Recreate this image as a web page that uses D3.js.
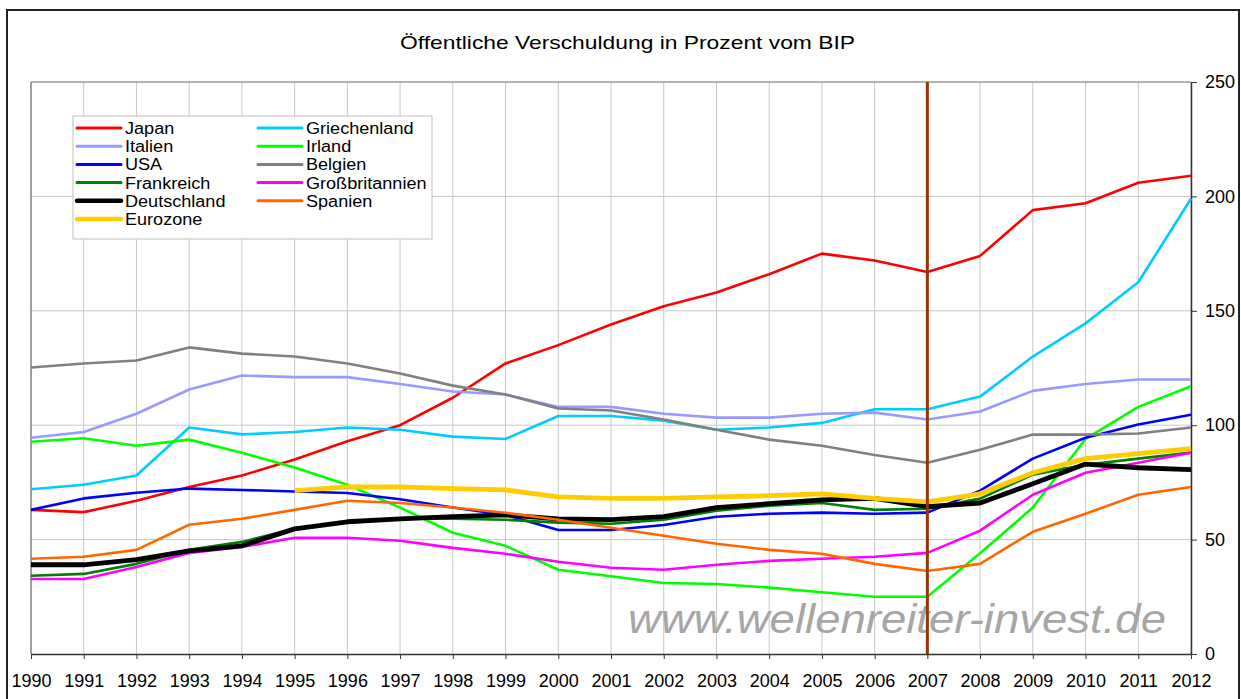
<!DOCTYPE html>
<html>
<head>
<meta charset="utf-8">
<script src="https://cdn.jsdelivr.net/npm/d3@7"></script>
<style>
  body { margin: 0; background: #fff; }
  text { font-family: "Liberation Sans", Arial, sans-serif; }
</style>
</head>
<body>
<div id="chart"></div>
<script>
const years = d3.range(1990, 2013);

// values in percent of GDP
const japan = [63, 62, 67, 73, 78, 85, 93, 100, 112, 127, 135, 144, 152, 158, 166, 175, 172, 167, 174, 194, 197, 206, 209];
const griechenland = [72, 74, 78, 99, 96, 97, 99, 98, 95, 94, 104, 104, 102, 98, 99, 101, 107, 107, 112.5, 130, 144.5, 162.5, 199];
const italien = [94.5, 97, 105, 115.6, 121.7, 121, 121, 118, 114.7, 113.4, 108, 108, 105, 103.3, 103.3, 105, 105.5, 102.5, 106, 115, 118, 120, 120];
const irland = [92.8, 94.3, 91, 93.7, 88, 81.5, 74, 64, 53, 47.3, 36.8, 34, 31, 30.6, 29, 27, 25, 25, 44, 64, 94, 108, 117];
const usa = [63, 68, 70.5, 72.3, 71.7, 71, 70.4, 67.6, 64, 60.8, 54.2, 54.2, 56.4, 60, 61.3, 61.8, 61.3, 61.8, 71.4, 85.4, 94.5, 100.3, 104.6];
const belgien = [125.2, 127, 128.3, 134, 131.3, 130, 127, 122.6, 117.3, 113.4, 107.3, 106.4, 102.5, 98, 93.7, 91, 87, 83.6, 89.3, 95.9, 95.9, 96.4, 99];
const frankreich = [34.2, 35, 39.4, 45.5, 49, 54.7, 57.4, 59.1, 59.1, 58.7, 57.4, 56.9, 58.7, 62.6, 64.8, 66, 63, 63.5, 67.9, 78.4, 82.7, 85.4, 88];
const grossbritannien = [32.8, 32.8, 38, 44.2, 46.8, 50.8, 50.8, 49.5, 46.4, 43.8, 40.3, 37.7, 36.8, 39, 40.7, 41.6, 42.5, 44.2, 53.9, 69.6, 79.2, 83.6, 88];
const deutschland = [39, 39, 41.2, 45.1, 47.3, 54.7, 57.8, 59.1, 60, 60.8, 59.1, 58.7, 60, 64, 65.7, 67.4, 68, 64.4, 66, 74.4, 83, 81.4, 80.6];
const spanien = [41.6, 42.5, 45.5, 56.5, 59.1, 63, 67, 66, 64, 61.7, 58.7, 55.2, 51.7, 48.2, 45.5, 43.8, 39.4, 36.3, 39.4, 53.4, 61.3, 69.6, 73];
const eurozone = [null, null, null, null, null, 71.4, 73, 73, 72.3, 71.7, 68.7, 68, 68, 68.7, 69.2, 70, 68, 66.5, 70, 79.2, 85.4, 87.6, 89.8];

const yTicks = [0, 50, 100, 150, 200, 250];
const markerYear = 2007;

// drawing order as in the legend (row by row)
const series = [
    { name: "Japan", values: japan, color: "#ff0000", width: 2.6 },
    { name: "Griechenland", values: griechenland, color: "#00ccff", width: 2.6 },
    { name: "Italien", values: italien, color: "#9999ff", width: 2.6 },
    { name: "Irland", values: irland, color: "#00ff00", width: 2.6 },
    { name: "USA", values: usa, color: "#0000ff", width: 2.6 },
    { name: "Belgien", values: belgien, color: "#808080", width: 2.6 },
    { name: "Frankreich", values: frankreich, color: "#008000", width: 2.6 },
    { name: "Großbritannien", values: grossbritannien, color: "#ff00ff", width: 2.6 },
    { name: "Deutschland", values: deutschland, color: "#000000", width: 4.8 },
    { name: "Spanien", values: spanien, color: "#ff6600", width: 2.6 },
    { name: "Eurozone", values: eurozone, color: "#ffcc00", width: 4.8 }
];

const width = 1241, height = 699;

const svg = d3.select("#chart").append("svg")
    .attr("width", width)
    .attr("height", height);

// outer chart frame
svg.append("rect")
    .attr("x", 7).attr("y", 10)
    .attr("width", 1232).attr("height", 720)
    .style("fill", "none")
    .style("stroke", "#222")
    .style("stroke-width", 2);

const x = d3.scaleLinear().domain([1990, 2012]).range([31, 1191]);
const y = d3.scaleLinear().domain([0, 250]).range([654, 82]);

// title
svg.append("text")
    .attr("x", 400).attr("y", 49)
    .attr("textLength", 455)
    .attr("lengthAdjust", "spacingAndGlyphs")
    .style("font-size", "19px")
    .style("fill", "#000")
    .text("Öffentliche Verschuldung in Prozent vom BIP");

// grid
const grid = svg.append("g");
grid.selectAll(".vgrid")
    .data(years)
    .enter().append("line")
    .attr("x1", d => x(d)).attr("x2", d => x(d))
    .attr("y1", y(250)).attr("y2", y(0))
    .style("stroke", "#c8c8c8")
    .style("stroke-width", 1);
grid.selectAll(".hgrid")
    .data(yTicks.filter(d => d > 0))
    .enter().append("line")
    .attr("x1", x(1990)).attr("x2", x(2012))
    .attr("y1", d => y(d)).attr("y2", d => y(d))
    .style("stroke", d => d === 250 ? "#999" : "#c8c8c8")
    .style("stroke-width", d => d === 250 ? 1.5 : 1);
// plot area left border
grid.append("line")
    .attr("x1", x(1990)).attr("x2", x(1990))
    .attr("y1", y(250)).attr("y2", y(0))
    .style("stroke", "#888").style("stroke-width", 1.5);

// watermark
svg.append("text")
    .attr("x", 628).attr("y", 633)
    .attr("textLength", 538)
    .attr("lengthAdjust", "spacingAndGlyphs")
    .style("font-size", "40px")
    .style("font-style", "italic")
    .style("fill", "#a6a6a6")
    .text("www.wellenreiter-invest.de");

// axes
const xAxis = svg.append("g")
    .attr("transform", `translate(0,${y(0)})`)
    .call(d3.axisBottom(x).tickValues(years).tickFormat(d3.format("d")).tickSize(5).tickSizeOuter(0).tickPadding(15));
xAxis.selectAll("text").style("font-size", "18px").style("fill", "#000")
    .style("font-family", "'Liberation Sans', Arial, sans-serif");
xAxis.select(".domain").style("stroke", "#333").style("stroke-width", 1.5);
xAxis.selectAll(".tick line").style("stroke", "#333");

const yAxis = svg.append("g")
    .attr("transform", `translate(${x(2012)},0)`)
    .call(d3.axisRight(y).tickValues(yTicks).tickSize(6).tickSizeOuter(0).tickPadding(8));
yAxis.selectAll("text").style("font-size", "18px").style("fill", "#000")
    .style("font-family", "'Liberation Sans', Arial, sans-serif");
yAxis.select(".domain").style("stroke", "#333").style("stroke-width", 1.5);
yAxis.selectAll(".tick line").style("stroke", "#333");

// lines
const line = d3.line()
    .defined(d => d[1] !== null)
    .x(d => x(d[0]))
    .y(d => y(d[1]));

svg.append("g").selectAll("path")
    .data(series)
    .enter().append("path")
    .attr("d", s => line(years.map((yr, i) => [yr, s.values[i]])))
    .style("fill", "none")
    .style("stroke", s => s.color)
    .style("stroke-width", s => s.width)
    .style("stroke-linejoin", "round");

// 2007 marker
svg.append("line")
    .attr("x1", x(markerYear)).attr("x2", x(markerYear))
    .attr("y1", y(250)).attr("y2", y(0))
    .style("stroke", "#993300")
    .style("stroke-width", 3);

// legend
const legend = svg.append("g").attr("transform", "translate(73,116)");
legend.append("rect")
    .attr("width", 359).attr("height", 123)
    .style("fill", "#fff")
    .style("stroke", "#c0c0c0")
    .style("stroke-width", 1);

const legendOrder = ["Japan", "Italien", "USA", "Frankreich", "Deutschland", "Eurozone",
    "Griechenland", "Irland", "Belgien", "Großbritannien", "Spanien"];
const item = legend.selectAll(".item")
    .data(legendOrder.map(n => series.find(s => s.name === n)))
    .enter().append("g")
    .attr("class", "item")
    .attr("transform", (d, i) => {
        const col = i < 6 ? 0 : 1;
        const row = i < 6 ? i : i - 6;
        return `translate(${col === 0 ? 4 : 185},${12 + row * 18.2})`;
    });
item.append("line")
    .attr("x1", 0).attr("x2", 44)
    .style("stroke", d => d.color)
    .style("stroke-width", d => d.width > 4 ? 4.5 : 3)
    .style("stroke-linecap", "round");
// slightly widened text so it fills the tight rows like the original
item.append("text")
    .attr("transform", "translate(48,6) scale(1.13,1)")
    .style("font-size", "16px")
    .style("fill", "#000")
    .text(d => d.name);
</script>
</body>
</html>
